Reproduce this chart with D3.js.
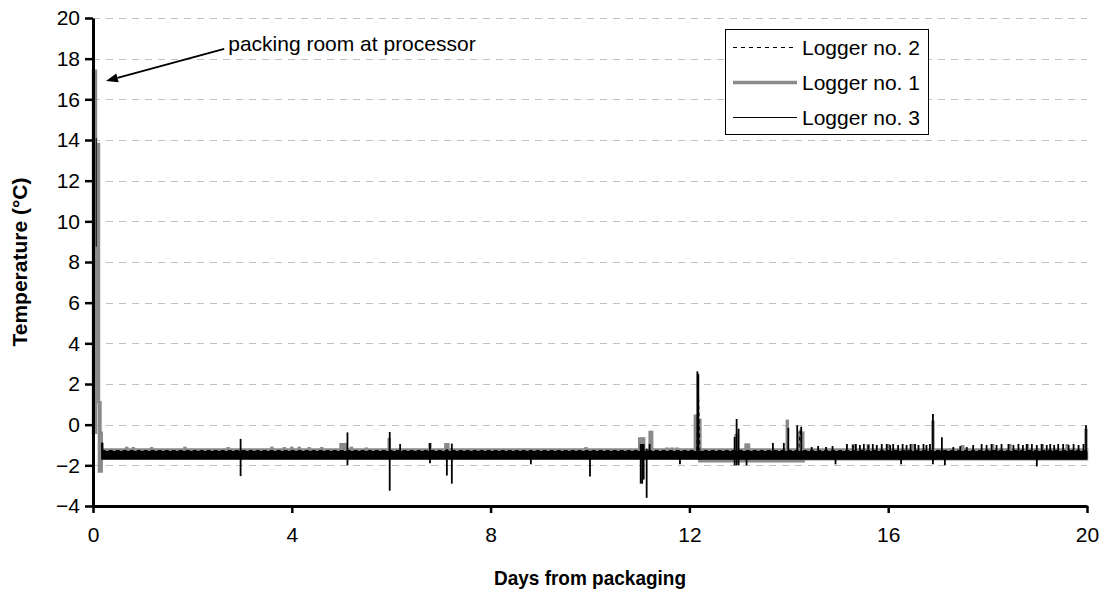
<!DOCTYPE html>
<html>
<head>
<meta charset="utf-8">
<script src="https://cdn.jsdelivr.net/npm/d3@7"></script>
<style>
  body { margin: 0; background: #fff; }
  svg { display: block; }
  text { font-family: "Liberation Sans", Arial, sans-serif; fill: #000; }
</style>
</head>
<body>
<svg id="chart" width="1104" height="599"></svg>
<script>
// Axis ticks
const xTicks = [0, 4, 8, 12, 16, 20];
const yTicks = [-4, -2, 0, 2, 4, 6, 8, 10, 12, 14, 16, 18, 20];
const legendNames = ["Logger no. 2", "Logger no. 1", "Logger no. 3"];

// Logger no. 1: reading range per interval [startDay, low °C, high °C]
const logger1Band = [
  [0.000, -0.4, 17.4],
  [0.060, 1.1, 13.8],
  [0.120, -2.3, 1.1],
  [0.150, -2.3, -0.4],
  [0.175, -1.60, -1.22],
  [12.20, -1.80, -1.22],
  [14.30, -1.70, -1.22],
  [20.00, -1.70, -1.22]
];
// Logger no. 1: short excursions [day, low °C, high °C]
const logger1Spikes = [
  [0.68, -1.3, -1.08], [0.81, -1.3, -1.10], [1.18, -1.3, -1.10], [1.85, -1.3, -1.08],
  [2.72, -1.3, -1.10], [3.60, -1.3, -1.08], [3.85, -1.3, -1.10], [4.00, -1.3, -1.08],
  [4.15, -1.3, -1.08], [4.35, -1.3, -1.10], [4.60, -1.3, -1.10],
  [4.99, -1.3, -0.90], [5.04, -1.3, -0.90], [5.08, -1.3, -0.90],
  [5.20, -1.3, -1.08], [5.50, -1.3, -1.12], [5.96, -1.3, -0.66], [6.78, -1.3, -0.90],
  [7.10, -1.3, -0.90], [7.14, -1.3, -0.90], [9.92, -1.3, -1.10],
  [11.00, -1.3, -0.62], [11.04, -1.3, -0.62], [11.08, -1.3, -0.62],
  [11.21, -1.3, -0.30], [11.24, -1.3, -0.30],
  [11.55, -1.3, -1.12], [11.65, -1.3, -1.12], [11.75, -1.3, -1.12],
  [12.12, -1.7, 0.50], [12.21, -1.7, 0.30], [12.94, -1.7, -0.45],
  [13.14, -1.7, -0.92], [13.19, -1.7, -0.92], [13.97, -1.7, 0.25],
  [14.20, -1.7, -0.33], [14.28, -1.7, -0.33],
  [15.30, -1.5, -0.95], [15.60, -1.5, -0.95], [16.00, -1.5, -0.95], [16.50, -1.5, -0.95],
  [16.90, -1.5, 0.20], [17.50, -1.5, -1.00], [18.10, -1.5, -0.95], [18.45, -1.5, -0.95],
  [18.80, -1.5, -0.95], [19.10, -1.5, -0.95], [19.60, -1.5, -0.95], [19.98, -1.5, -0.20]
];

// Logger no. 2: readings [day, °C]
const logger2 = [
  [0.175, -1.27], [12.15, -1.27], [12.18, 1.9], [12.21, -1.27], [14.20, -1.27], [14.23, -0.2],
  [14.26, -1.27], [20.00, -1.27]
];

// Logger no. 3: reading range per interval [startDay, low °C, high °C]
const logger3Band = [
  [0.175, -1.70, -0.90],
  [0.200, -1.70, -1.32],
  [20.00, -1.70, -1.32]
];
// Logger no. 3: first reading at the packing room [day, low °C, high °C]
const logger3Start = [[0.065, 8.75, 14.1]];
// Logger no. 3: short excursions [day, low °C, high °C]
const logger3Spikes = [
  [2.97, -2.53, -0.70], [5.12, -2.00, -0.38], [5.97, -3.25, -0.36], [6.18, -1.60, -0.95],
  [6.78, -1.90, -0.90], [7.12, -2.50, -1.20], [7.22, -2.90, -0.93], [8.81, -1.95, -1.30],
  [10.00, -2.55, -1.30], [11.02, -2.90, -0.95], [11.05, -2.90, -0.95], [11.08, -2.70, -0.95],
  [11.14, -3.60, -1.20], [11.20, -1.60, -0.95], [11.81, -1.95, -1.30],
  [12.16, -1.70, 2.62], [12.18, -1.70, 2.50],
  [12.91, -2.00, -0.60], [12.95, -2.00, 0.28], [12.99, -2.00, -0.20], [13.15, -2.00, -1.30],
  [13.68, -1.60, -0.90], [13.90, -1.60, -0.90], [13.99, -1.60, -0.16],
  [14.17, -1.60, -0.03], [14.25, -1.70, -0.10],
  [14.46, -1.60, -1.10], [14.59, -1.60, -1.05], [14.75, -1.60, -1.10], [14.88, -1.60, -1.05],
  [14.94, -1.95, -1.30], [15.17, -1.60, -0.95], [15.29, -1.60, -1.00], [15.35, -1.60, -0.95],
  [15.43, -1.60, -1.00], [15.51, -1.60, -0.95], [15.60, -1.60, -1.00], [15.69, -1.60, -0.95],
  [15.77, -1.60, -1.00], [15.87, -1.60, -0.95], [15.97, -1.60, -0.95], [16.04, -1.60, -1.00],
  [16.10, -1.60, -0.95], [16.20, -1.60, -1.00], [16.26, -1.95, -1.30], [16.29, -1.60, -0.95],
  [16.37, -1.60, -1.00], [16.45, -1.60, -0.95], [16.54, -1.60, -0.95], [16.61, -1.60, -1.00],
  [16.71, -1.60, -0.95], [16.77, -1.60, -1.00], [16.84, -1.60, -0.95],
  [16.90, -1.95, 0.52], [17.08, -1.60, -0.62], [17.14, -2.00, -1.30],
  [17.31, -1.60, -1.10], [17.45, -1.60, -1.05], [17.58, -1.60, -1.10], [17.71, -1.60, -1.00],
  [17.88, -1.60, -0.95], [17.98, -1.60, -1.00], [18.08, -1.60, -0.95], [18.18, -1.60, -1.00],
  [18.28, -1.60, -0.95], [18.42, -1.60, -0.95], [18.52, -1.60, -1.00], [18.62, -1.60, -0.95],
  [18.71, -1.60, -1.00], [18.79, -1.60, -0.95], [18.89, -1.60, -0.95], [18.99, -2.05, -1.00],
  [19.09, -1.60, -0.95], [19.19, -1.60, -1.00], [19.26, -1.60, -0.95], [19.34, -1.60, -1.00],
  [19.42, -1.60, -0.95], [19.52, -1.60, -0.95], [19.63, -1.60, -1.00], [19.73, -1.60, -0.95],
  [19.83, -1.60, -1.00], [19.93, -1.60, -0.95], [19.98, -1.60, -0.03]
];

// Callout
const calloutText = "packing room at processor";
const calloutTip = [0.26, 16.9];
const calloutTail = [2.64, 18.48];

const svg = d3.select("#chart");
const FONT = 21;
const GRAY = "#8a8a8a";

const x = d3.scaleLinear().domain([0, 20]).range([93, 1087]);
const y = d3.scaleLinear().domain([-4, 20]).range([506, 18]);
const crisp = v => Math.round(v) + 0.5;

// Dashed horizontal gridlines
svg.append("g")
  .selectAll("line")
  .data(yTicks.filter(v => v > -4))
  .join("line")
  .attr("x1", x(0)).attr("x2", x(20))
  .attr("y1", d => crisp(y(d))).attr("y2", d => crisp(y(d)))
  .attr("stroke", "#c0c0c0").attr("stroke-width", 1)
  .attr("stroke-dasharray", "7,6");

const plot = svg.append("g");

const band = d3.area()
  .x(d => x(d[0]))
  .y0(d => y(d[1]))
  .y1(d => y(d[2]))
  .curve(d3.curveStepAfter);

function spikes(g, data, color, width) {
  g.append("g").selectAll("line").data(data).join("line")
    .attr("x1", d => x(d[0])).attr("x2", d => x(d[0]))
    .attr("y1", d => y(d[1])).attr("y2", d => y(d[2]))
    .attr("stroke", color).attr("stroke-width", width);
}

// Logger no. 1 (thick grey)
plot.append("path").datum(logger1Band).attr("d", band)
  .attr("fill", GRAY).attr("stroke", GRAY).attr("stroke-width", 2.5)
  .attr("stroke-linejoin", "miter");
spikes(plot, logger1Spikes, GRAY, 3.5);

// Logger no. 2 (dashed)
plot.append("path").datum(logger2)
  .attr("d", d3.line().x(d => x(d[0])).y(d => y(d[1])))
  .attr("fill", "none").attr("stroke", "#000").attr("stroke-width", 1)
  .attr("stroke-dasharray", "4,3");

// Logger no. 3 (thin black)
plot.append("path").datum(logger3Band).attr("d", band)
  .attr("fill", "#000").attr("stroke", "#000").attr("stroke-width", 1);
spikes(plot, logger3Start, "#000", 1);
spikes(plot, logger3Spikes, "#000", 1.8);

// Axes
const yAxis = svg.append("g")
  .attr("transform", `translate(${x(0)},0)`)
  .call(d3.axisLeft(y).tickValues(yTicks).tickSize(8).tickSizeOuter(0).tickPadding(5));
const xAxis = svg.append("g")
  .attr("transform", `translate(0,${y(-4)})`)
  .call(d3.axisBottom(x).tickValues(xTicks).tickSize(7).tickSizeOuter(0).tickPadding(14));

[yAxis, xAxis].forEach(a => {
  a.select(".domain").attr("stroke", "#000").attr("stroke-width", 3);
  a.selectAll(".tick line").attr("stroke", "#000").attr("stroke-width", 2.5);
  a.selectAll(".tick text")
    .attr("font-family", '"Liberation Sans", Arial, sans-serif')
    .attr("font-size", FONT).attr("fill", "#000");
});

// Axis titles
svg.append("text")
  .attr("x", (x(0) + x(20)) / 2).attr("y", 585)
  .attr("text-anchor", "middle")
  .attr("font-size", FONT).attr("font-weight", "bold")
  .attr("textLength", 192).attr("lengthAdjust", "spacingAndGlyphs")
  .text("Days from packaging");
svg.append("text")
  .attr("transform", `translate(27,${(y(-4) + y(20)) / 2}) rotate(-90)`)
  .attr("text-anchor", "middle")
  .attr("font-size", FONT).attr("font-weight", "bold")
  .text("Temperature (°C)");

// Callout with arrow; the label sits on a white box over the gridline
{
  const [tx, ty] = [x(calloutTip[0]), y(calloutTip[1])];
  const [sx, sy] = [x(calloutTail[0]), y(calloutTail[1])];
  const ang = Math.atan2(ty - sy, tx - sx);
  const len = 12, half = 4.5;
  const bx = tx - len * Math.cos(ang), by = ty - len * Math.sin(ang);
  const label = svg.append("g");
  const t = label.append("text")
    .attr("x", sx + 4).attr("y", sy + 2)
    .attr("font-size", FONT)
    .text(calloutText);
  const bb = t.node().getBBox();
  label.insert("rect", "text")
    .attr("x", bb.x - 2).attr("y", bb.y - 6)
    .attr("width", bb.width + 4).attr("height", bb.height + 4)
    .attr("fill", "#fff");
  svg.append("line")
    .attr("x1", sx).attr("y1", sy).attr("x2", bx).attr("y2", by)
    .attr("stroke", "#000").attr("stroke-width", 2);
  svg.append("path")
    .attr("d", `M${tx},${ty}L${bx + half * Math.sin(ang)},${by - half * Math.cos(ang)}L${bx - half * Math.sin(ang)},${by + half * Math.cos(ang)}Z`)
    .attr("fill", "#000");
}

// Legend
{
  const lg = svg.append("g");
  lg.append("rect").attr("x", 725.5).attr("y", 29.5).attr("width", 203).attr("height", 105)
    .attr("fill", "#fff").attr("stroke", "#000").attr("stroke-width", 1);
  const styles = [
    { color: "#000", width: 1, dash: "4,4" },
    { color: GRAY, width: 3.5, dash: null },
    { color: "#000", width: 1, dash: null }
  ];
  legendNames.forEach((name, i) => {
    const cy = 47 + i * 35;
    lg.append("line").attr("x1", 733).attr("x2", 797)
      .attr("y1", crisp(cy)).attr("y2", crisp(cy))
      .attr("stroke", styles[i].color).attr("stroke-width", styles[i].width)
      .attr("stroke-dasharray", styles[i].dash);
    lg.append("text").attr("x", 802).attr("y", cy + 7.5)
      .attr("font-size", FONT).text(name);
  });
}
</script>
</body>
</html>
